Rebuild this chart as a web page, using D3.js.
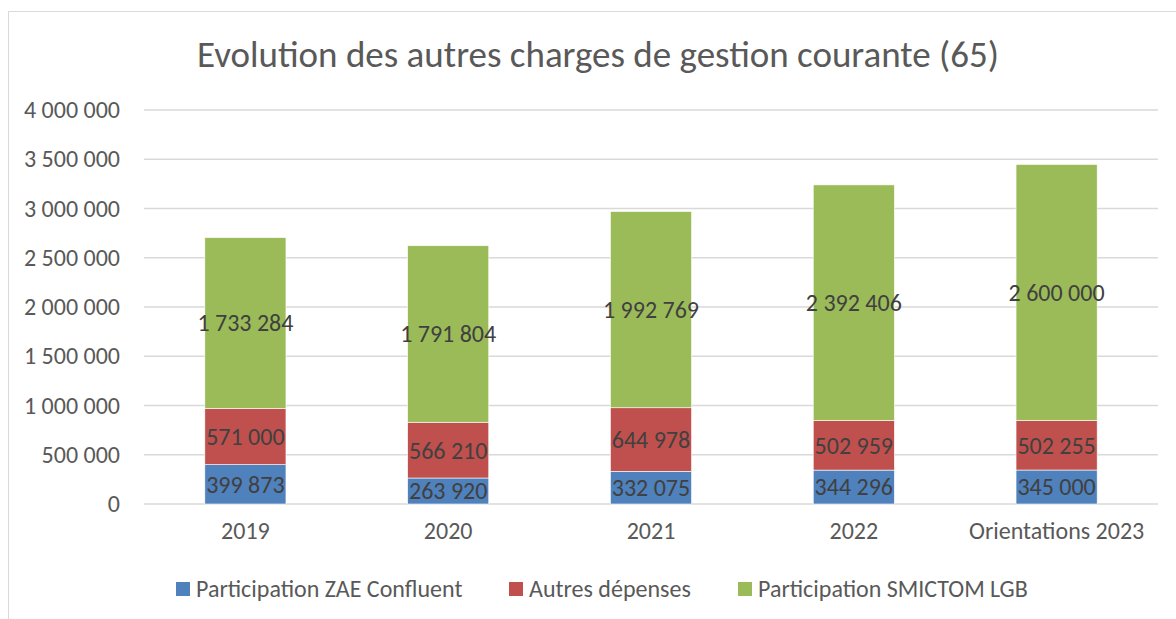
<!DOCTYPE html>
<html>
<head>
<script src="https://d3js.org/d3.v7.min.js"></script>
<style>
  body { margin: 0; background: #fff; font-family: Carlito, Lato, sans-serif; }
  .tick text { fill: #595959; }
</style>
</head>
<body>
<script>
// data
var categories = ["2019", "2020", "2021", "2022", "Orientations 2023"];
var zae = [399873, 263920, 332075, 344296, 345000];
var autres = [571000, 566210, 644978, 502959, 502255];
var smictom = [1733284, 1791804, 1992769, 2392406, 2600000];
var seriesNames = ["Participation ZAE Confluent", "Autres dépenses", "Participation SMICTOM LGB"];
var colors = ["#4F81BD", "#C0504D", "#9BBB59"];
var yTicks = [0, 500000, 1000000, 1500000, 2000000, 2500000, 3000000, 3500000, 4000000];

var W = 1176, H = 619;
var margin = {top: 110, right: 18, bottom: 115, left: 144};
var width = W - margin.left - margin.right,
    height = H - margin.top - margin.bottom;
var FONT = "Carlito, Lato, sans-serif";

var fmt = function(v) { return d3.format(",")(v).replace(/,/g, " "); };

var svg = d3.select("body").append("svg")
    .attr("width", W).attr("height", H);

// chart frame
svg.append("rect")
    .attr("x", 8.5).attr("y", 11.5)
    .attr("width", W + 10).attr("height", H + 10)
    .attr("fill", "none").attr("stroke", "#d9d9d9");

svg.append("text")
    .attr("x", 598).attr("y", 67)
    .attr("text-anchor", "middle")
    .attr("font-size", 37)
    .attr("fill", "#595959")
    .text("Evolution des autres charges de gestion courante (65)");

var g = svg.append("g").attr("transform", "translate(" + margin.left + "," + margin.top + ")");

var x = d3.scaleBand().domain(categories).range([0, width]).paddingInner(0.6).paddingOuter(0.3);
var y = d3.scaleLinear().domain([0, 4000000]).range([height, 0]);

// gridlines
g.append("g")
    .selectAll("line")
    .data(yTicks)
    .enter().append("line")
    .attr("x1", 0).attr("x2", width)
    .attr("y1", function(d) { return y(d); })
    .attr("y2", function(d) { return y(d); })
    .attr("stroke", "#d9d9d9").attr("stroke-width", 1.3);

// y axis
var yAxis = g.append("g")
    .call(d3.axisLeft(y).tickValues(yTicks).tickFormat(fmt).tickSize(0).tickPadding(24));
yAxis.select(".domain").remove();
yAxis.selectAll("text").attr("font-size", 24).attr("font-family", FONT);

// x axis
var xAxis = g.append("g")
    .attr("transform", "translate(0," + height + ")")
    .call(d3.axisBottom(x).tickSize(0).tickPadding(18));
xAxis.select(".domain").remove();
xAxis.selectAll("text").attr("font-size", 24).attr("font-family", FONT);

// stack
var rows = categories.map(function(c, i) {
    return {cat: c, s0: zae[i], s1: autres[i], s2: smictom[i]};
});
var stack = d3.stack().keys(["s0", "s1", "s2"])(rows);

var layers = g.selectAll(".layer")
    .data(stack)
    .enter().append("g")
    .attr("class", "layer")
    .attr("fill", function(d, i) { return colors[i]; });

layers.selectAll("rect")
    .data(function(d) { return d; })
    .enter().append("rect")
    .attr("x", function(d) { return x(d.data.cat); })
    .attr("width", x.bandwidth())
    .attr("y", function(d) { return y(d[1]); })
    .attr("height", function(d) { return y(d[0]) - y(d[1]); })
    .attr("stroke", "#fff").attr("stroke-width", 0.6);

layers.selectAll("text")
    .data(function(d) { return d.map(function(p) { return {p: p, key: d.key}; }); })
    .enter().append("text")
    .attr("x", function(d) { return x(d.p.data.cat) + x.bandwidth() / 2; })
    .attr("y", function(d) { return y((d.p[0] + d.p[1]) / 2); })
    .attr("dy", "0.35em")
    .attr("text-anchor", "middle")
    .attr("font-size", 24)
    .attr("fill", "#404040")
    .text(function(d) { return fmt(d.p.data[d.key]); });

// legend
var legendX = [176, 509, 738];
var legend = svg.append("g").selectAll("g")
    .data(seriesNames)
    .enter().append("g")
    .attr("transform", function(d, i) { return "translate(" + legendX[i] + ",589)"; });
legend.append("rect")
    .attr("x", 0).attr("y", -7).attr("width", 14).attr("height", 14)
    .attr("fill", function(d, i) { return colors[i]; });
legend.append("text")
    .attr("x", 20).attr("dy", "0.35em")
    .attr("font-size", 24).attr("fill", "#595959")
    .text(function(d) { return d; });
</script>
</body>
</html>
